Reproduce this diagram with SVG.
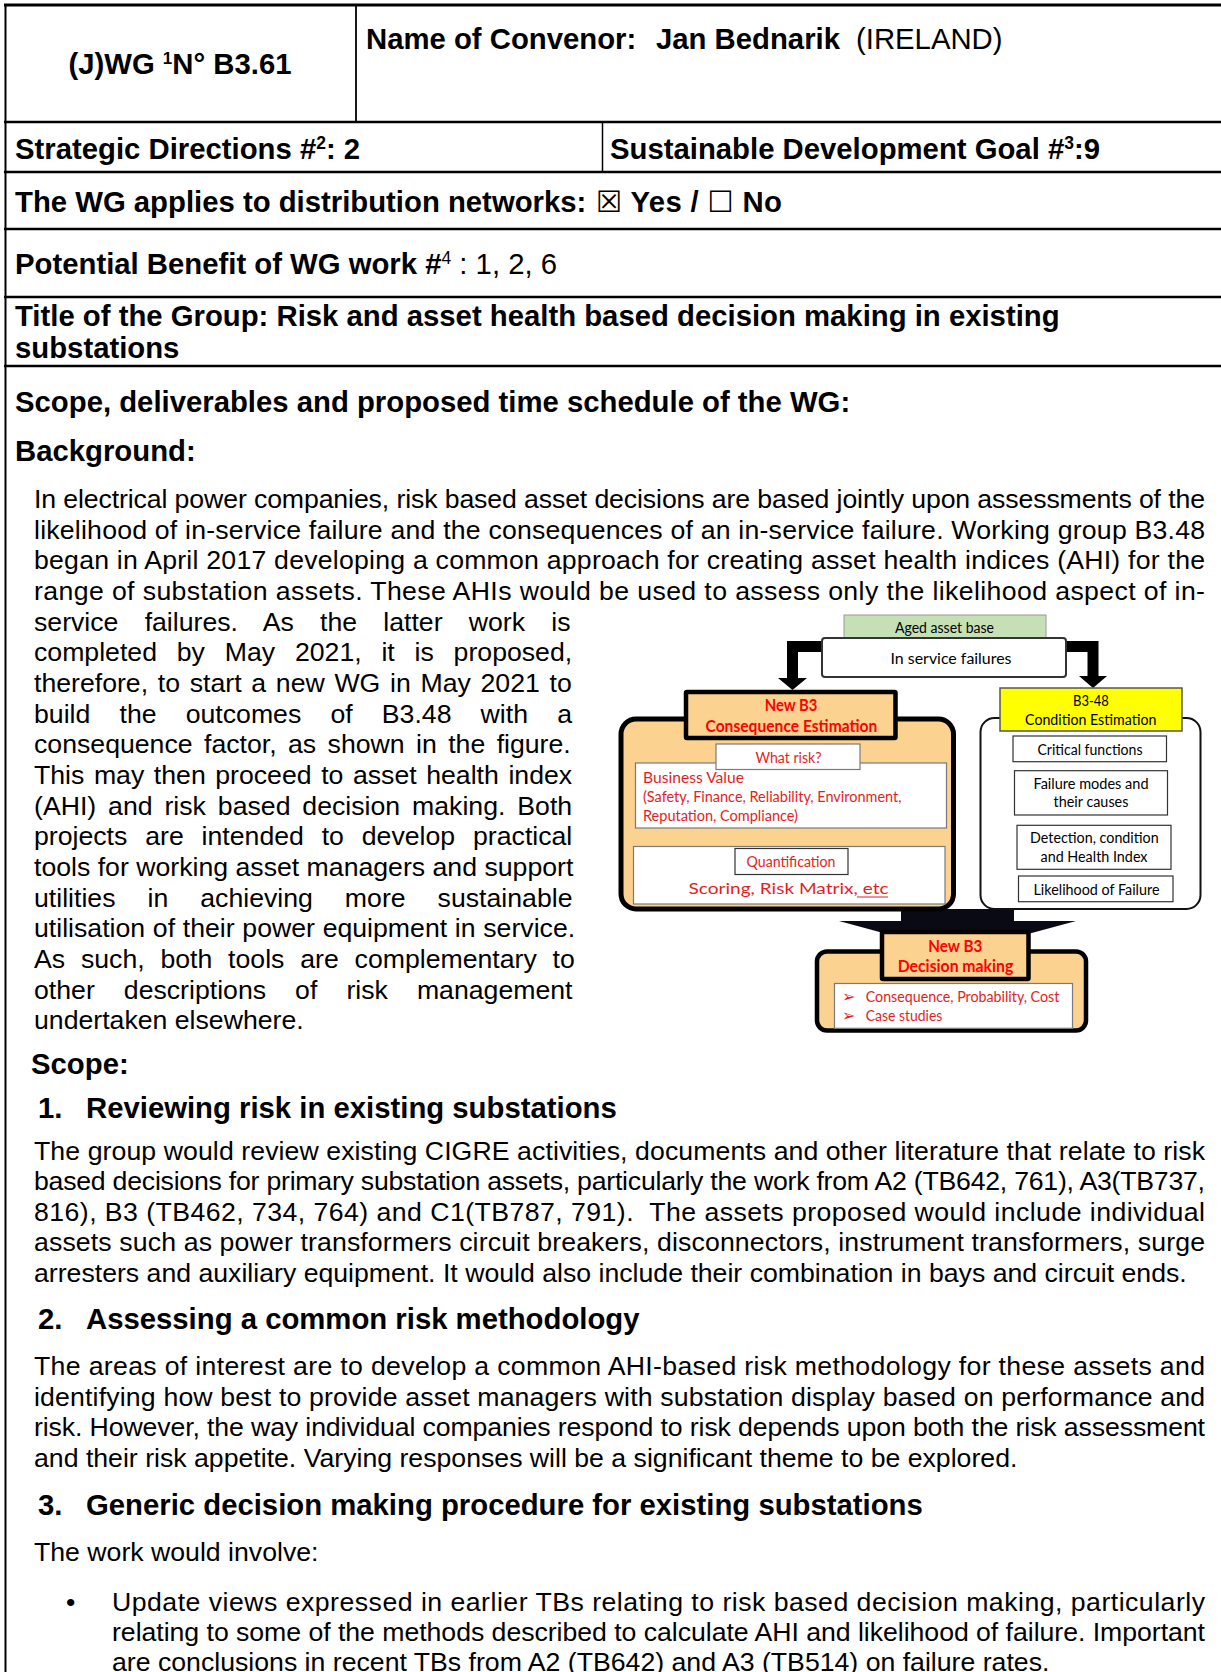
<svg xmlns="http://www.w3.org/2000/svg" width="1221" height="1672" viewBox="0 0 1221 1672">
<style>
.b{font-family:"Liberation Sans",Arial,"DejaVu Sans",sans-serif;font-weight:bold;font-size:29.3px;fill:#000}
.n{font-family:"Liberation Sans",Arial,"DejaVu Sans",sans-serif;font-weight:normal}
.r{font-family:"Liberation Sans",Arial,sans-serif;font-size:26.67px;fill:#000}
.f{font-family:Lato,"Open Sans",sans-serif;font-size:15.5px;fill:#000}
.fr{font-family:Lato,"Open Sans",sans-serif;font-size:15.5px;fill:#e31e24}
.fh{font-family:Lato,"Open Sans",sans-serif;font-size:17px;font-weight:bold;fill:#ff0000}
.tl{stroke:#000;stroke-width:2.6;fill:none}
.orange{fill:#fbd28f;stroke:#000;stroke-width:5}
.hdr{fill:#fbd28f;stroke:#000;stroke-width:4.5}
.wb{fill:#fff;stroke:#7a7a7a;stroke-width:1.2}
.wk{fill:#fff;stroke:#333;stroke-width:1.2}
.thin{stroke:#222;stroke-width:1;fill:none}
</style>
<defs>
<marker id="ah" markerWidth="6" markerHeight="6" refX="3" refY="5" orient="auto" markerUnits="userSpaceOnUse">
<path d="M0,0 L6,0 L3,6 z" fill="#222"/>
</marker>
</defs>
<rect x="0" y="0" width="1221" height="1672" fill="#fff"/>

<g id="table-lines">
<line class="tl" x1="4" y1="5" x2="1221" y2="5" style="stroke-width:3"/>
<line class="tl" x1="4" y1="122" x2="1221" y2="122"/>
<line class="tl" x1="4" y1="172" x2="1221" y2="172"/>
<line class="tl" x1="4" y1="229" x2="1221" y2="229"/>
<line class="tl" x1="4" y1="297" x2="1221" y2="297"/>
<line class="tl" x1="4" y1="366" x2="1221" y2="366"/>
<line class="tl" x1="5.5" y1="4" x2="5.5" y2="1672" style="stroke-width:2"/>
<line class="tl" x1="356" y1="5" x2="356" y2="122" style="stroke-width:1.8"/>
<line class="tl" x1="602.5" y1="122" x2="602.5" y2="172" style="stroke-width:1.5"/>
</g>

<g id="cell-wg">
<text class="b" x="180" y="74" text-anchor="middle">(J)WG <tspan font-size="17" dy="-10">1</tspan><tspan dy="10">N° B3.61</tspan></text>
</g>
<g id="cell-convenor">
<text class="b" x="366" y="49">Name of Convenor:<tspan x="656">Jan Bednarik</tspan><tspan class="n" x="856">(IRELAND)</tspan></text>
</g>
<g id="cell-strategic">
<text class="b" x="15" y="159">Strategic Directions #<tspan font-size="17.5" dy="-10">2</tspan><tspan dy="10">: 2</tspan></text>
</g>
<g id="cell-sdg">
<text class="b" x="610" y="159">Sustainable Development Goal #<tspan font-size="17.5" dy="-10">3</tspan><tspan dy="10">:9</tspan></text>
</g>
<g id="cell-distribution">
<text class="b" x="15" y="212">The WG applies to distribution networks:</text>
<text class="b" x="596" y="212" textLength="186" lengthAdjust="spacing">☒ Yes / ☐ No</text>
</g>
<g id="cell-benefit">
<text class="b" x="15" y="274">Potential Benefit of WG work #<tspan class="n" font-size="17.5" dy="-10">4</tspan><tspan class="n" dy="10"> : 1, 2, 6</tspan></text>
</g>
<g id="cell-title">
<text class="b" x="15" y="326">Title of the Group: Risk and asset health based decision making in existing</text>
<text class="b" x="15" y="358">substations</text>
</g>

<g id="cell-scope">
<text class="b" x="15" y="412">Scope, deliverables and proposed time schedule of the WG:</text>
<text class="b" x="15" y="461">Background:</text>

<text class="r" x="34" y="507.8" textLength="1171" lengthAdjust="spacing">In electrical power companies, risk based asset decisions are based jointly upon assessments of the</text>
<text class="r" x="34" y="538.5" textLength="1171" lengthAdjust="spacing">likelihood of in-service failure and the consequences of an in-service failure. Working group B3.48</text>
<text class="r" x="34" y="569.2" textLength="1171" lengthAdjust="spacing">began in April 2017 developing a common approach for creating asset health indices (AHI) for the</text>
<text class="r" x="34" y="599.8" textLength="1171" lengthAdjust="spacing">range of substation assets. These AHIs would be used to assess only the likelihood aspect of in-</text>
<text class="r" x="34" y="630.5" word-spacing="18.8">service failures. As the latter work is</text>
<text class="r" x="34" y="661.2" word-spacing="12.4">completed by May 2021, it is proposed,</text>
<text class="r" x="34" y="691.9" word-spacing="2.3">therefore, to start a new WG in May 2021 to</text>
<text class="r" x="34" y="722.6" word-spacing="21.75">build the outcomes of B3.48 with a</text>
<text class="r" x="34" y="753.2" word-spacing="4.0">consequence factor, as shown in the figure.</text>
<text class="r" x="34" y="783.9" word-spacing="2.15">This may then proceed to asset health index</text>
<text class="r" x="34" y="814.6" word-spacing="4.5">(AHI) and risk based decision making. Both</text>
<text class="r" x="34" y="845.3" word-spacing="10.45">projects are intended to develop practical</text>
<text class="r" x="34" y="876">tools for working asset managers and support</text>
<text class="r" x="34" y="906.7" word-spacing="24.6">utilities in achieving more sustainable</text>
<text class="r" x="34" y="937.3" word-spacing="0.3">utilisation of their power equipment in service.</text>
<text class="r" x="34" y="968" word-spacing="8.4">As such, both tools are complementary to</text>
<text class="r" x="34" y="998.7" word-spacing="21.65">other descriptions of risk management</text>
<text class="r" x="34" y="1029.4">undertaken elsewhere.</text>

<text class="b" x="31" y="1074">Scope:</text>
<text class="b" x="38" y="1118">1.</text>
<text class="b" x="86" y="1118">Reviewing risk in existing substations</text>
<text class="r" x="34" y="1159.5" textLength="1171" lengthAdjust="spacing">The group would review existing CIGRE activities, documents and other literature that relate to risk</text>
<text class="r" x="34" y="1190.1" textLength="1171" lengthAdjust="spacing">based decisions for primary substation assets, particularly the work from A2 (TB642, 761), A3(TB737,</text>
<text class="r" x="34" y="1220.7" textLength="1171" lengthAdjust="spacing" xml:space="preserve">816), B3 (TB462, 734, 764) and C1(TB787, 791).  The assets proposed would include individual</text>
<text class="r" x="34" y="1251.3" textLength="1171" lengthAdjust="spacing">assets such as power transformers circuit breakers, disconnectors, instrument transformers, surge</text>
<text class="r" x="34" y="1281.9">arresters and auxiliary equipment. It would also include their combination in bays and circuit ends.</text>

<text class="b" x="38" y="1329">2.</text>
<text class="b" x="86" y="1329">Assessing a common risk methodology</text>
<text class="r" x="34" y="1375" textLength="1171" lengthAdjust="spacing">The areas of interest are to develop a common AHI-based risk methodology for these assets and</text>
<text class="r" x="34" y="1405.6" textLength="1171" lengthAdjust="spacing">identifying how best to provide asset managers with substation display based on performance and</text>
<text class="r" x="34" y="1436.2" textLength="1171" lengthAdjust="spacing">risk. However, the way individual companies respond to risk depends upon both the risk assessment</text>
<text class="r" x="34" y="1466.8">and their risk appetite. Varying responses will be a significant theme to be explored.</text>

<text class="b" x="38" y="1515">3.</text>
<text class="b" x="86" y="1515">Generic decision making procedure for existing substations</text>
<text class="r" x="34" y="1560.5">The work would involve:</text>
<text class="r" x="66" y="1610.5">•</text>
<text class="r" x="112" y="1610.5" textLength="1093" lengthAdjust="spacing">Update views expressed in earlier TBs relating to risk based decision making, particularly</text>
<text class="r" x="112" y="1641.1" textLength="1093" lengthAdjust="spacing">relating to some of the methods described to calculate AHI and likelihood of failure. Important</text>
<text class="r" x="112" y="1670.5">are conclusions in recent TBs from A2 (TB642) and A3 (TB514) on failure rates.</text>
</g>

<!-- Figure -->
<g id="connectors">
<polygon points="822,641 787,641 787,678 778,678 792.5,690 807,678 798,678 798,652 822,652" fill="#000"/>
<polygon points="1066,641 1098.5,641 1098.5,676 1107,676 1093,688 1079,676 1087.5,676 1087.5,652 1066,652" fill="#000"/>
<polygon points="901,909 1014,909 1014,921 1076,921 957,953 839,921 901,921" fill="#0a0a14"/>
<line class="thin" x1="791" y1="830" x2="791" y2="841" marker-end="url(#ah)"/>
<line class="thin" x1="1091" y1="762" x2="1091" y2="769" marker-end="url(#ah)"/>
<line class="thin" x1="1096" y1="815" x2="1096" y2="824" marker-end="url(#ah)"/>
<line class="thin" x1="1096" y1="862" x2="1096" y2="875" marker-end="url(#ah)"/>
</g>

<g id="node-aged">
<rect x="844" y="615" width="202" height="25" fill="#c5e0b4" stroke="#9a9a9a" stroke-width="1"/>
<text class="f" x="944.5" y="632.5" text-anchor="middle" textLength="99" lengthAdjust="spacingAndGlyphs">Aged asset base</text>
</g>
<g id="node-failures">
<rect x="822" y="638" width="244" height="39" rx="3" fill="#fff" stroke="#333" stroke-width="2"/>
<text class="f" x="951" y="664" text-anchor="middle" font-size="17.5" textLength="121" lengthAdjust="spacingAndGlyphs">In service failures</text>
</g>

<g id="node-consequence">
<rect class="orange" x="621" y="719" width="332.5" height="190" rx="15"/>
<rect class="hdr" x="686" y="692" width="209.5" height="46" rx="1"/>
<text class="fh" x="791" y="710.5" text-anchor="middle" textLength="52.6" lengthAdjust="spacingAndGlyphs">New B3</text>
<text class="fh" x="791.4" y="731.5" text-anchor="middle" textLength="171.8" lengthAdjust="spacingAndGlyphs">Consequence Estimation</text>
<rect class="wb" x="635.5" y="763" width="311" height="65"/>
<rect class="wb" x="716" y="744" width="144" height="25.5"/>
<text class="fr" x="788.5" y="762.5" text-anchor="middle" textLength="66" lengthAdjust="spacingAndGlyphs">What risk?</text>
<text class="fr" x="643" y="783" font-size="17" textLength="101" lengthAdjust="spacingAndGlyphs">Business Value</text>
<text class="fr" x="643" y="802" textLength="258.5" lengthAdjust="spacingAndGlyphs">(Safety, Finance, Reliability, Environment,</text>
<text class="fr" x="643" y="820.5" textLength="155" lengthAdjust="spacingAndGlyphs">Reputation, Compliance)</text>
<rect class="wb" x="633.5" y="846.5" width="311.5" height="57.5"/>
<rect class="wk" x="735" y="848.5" width="113" height="26"/>
<text class="fr" x="791" y="867" text-anchor="middle" textLength="88.8" lengthAdjust="spacingAndGlyphs">Quantification</text>
<text class="fr" x="788.6" y="894" text-anchor="middle" font-size="21.5" textLength="200" lengthAdjust="spacingAndGlyphs">Scoring, Risk Matrix, etc</text>
<line x1="857" y1="897" x2="888" y2="897" stroke="#e31e24" stroke-width="1"/>
</g>

<g id="node-condition">
<rect x="980.5" y="718" width="220" height="191" rx="14" fill="#fff" stroke="#111" stroke-width="2"/>
<rect x="1000" y="688" width="182" height="43" fill="#ffff00" stroke="#555" stroke-width="1.5"/>
<text class="f" x="1091" y="705.5" text-anchor="middle" font-size="16.5" textLength="35.8" lengthAdjust="spacingAndGlyphs">B3-48</text>
<text class="f" x="1090.7" y="725" text-anchor="middle" font-size="16.5" textLength="131.3" lengthAdjust="spacingAndGlyphs">Condition Estimation</text>
<rect class="wk" x="1013" y="736" width="153.5" height="25.7"/>
<text class="f" x="1090" y="754.5" text-anchor="middle" textLength="105" lengthAdjust="spacingAndGlyphs">Critical functions</text>
<rect class="wk" x="1014.5" y="770.7" width="153" height="44.3"/>
<text class="f" x="1091" y="789" text-anchor="middle" textLength="115" lengthAdjust="spacingAndGlyphs">Failure modes and</text>
<text class="f" x="1091" y="807.2" text-anchor="middle" textLength="74.8" lengthAdjust="spacingAndGlyphs">their causes</text>
<rect class="wk" x="1017" y="825.3" width="154" height="44"/>
<text class="f" x="1094.4" y="843.2" text-anchor="middle" textLength="128.6" lengthAdjust="spacingAndGlyphs">Detection, condition</text>
<text class="f" x="1094" y="861.5" text-anchor="middle" textLength="107" lengthAdjust="spacingAndGlyphs">and Health Index</text>
<rect class="wk" x="1018.5" y="876" width="154.5" height="25.7"/>
<text class="f" x="1096.5" y="894.5" text-anchor="middle" textLength="126" lengthAdjust="spacingAndGlyphs">Likelihood of Failure</text>
</g>

<g id="node-decision">
<rect class="orange" x="817" y="951.5" width="269" height="79" rx="10" style="stroke-width:4.5"/>
<rect class="hdr" x="882" y="932" width="146.5" height="47" rx="1"/>
<text class="fh" x="955.3" y="952.2" text-anchor="middle" textLength="54" lengthAdjust="spacingAndGlyphs">New B3</text>
<text class="fh" x="955.5" y="972.2" text-anchor="middle" textLength="115.6" lengthAdjust="spacingAndGlyphs">Decision making</text>
<rect class="wb" x="834.5" y="983.5" width="238" height="44.8"/>
<text class="fr" x="842" y="1002" font-family="DejaVu Sans" font-size="14">➢</text>
<text class="fr" x="865.7" y="1002" textLength="193.6" lengthAdjust="spacingAndGlyphs">Consequence, Probability, Cost</text>
<text class="fr" x="842" y="1021" font-family="DejaVu Sans" font-size="14">➢</text>
<text class="fr" x="865.7" y="1021" textLength="76.7" lengthAdjust="spacingAndGlyphs">Case studies</text>
</g>
</svg>
